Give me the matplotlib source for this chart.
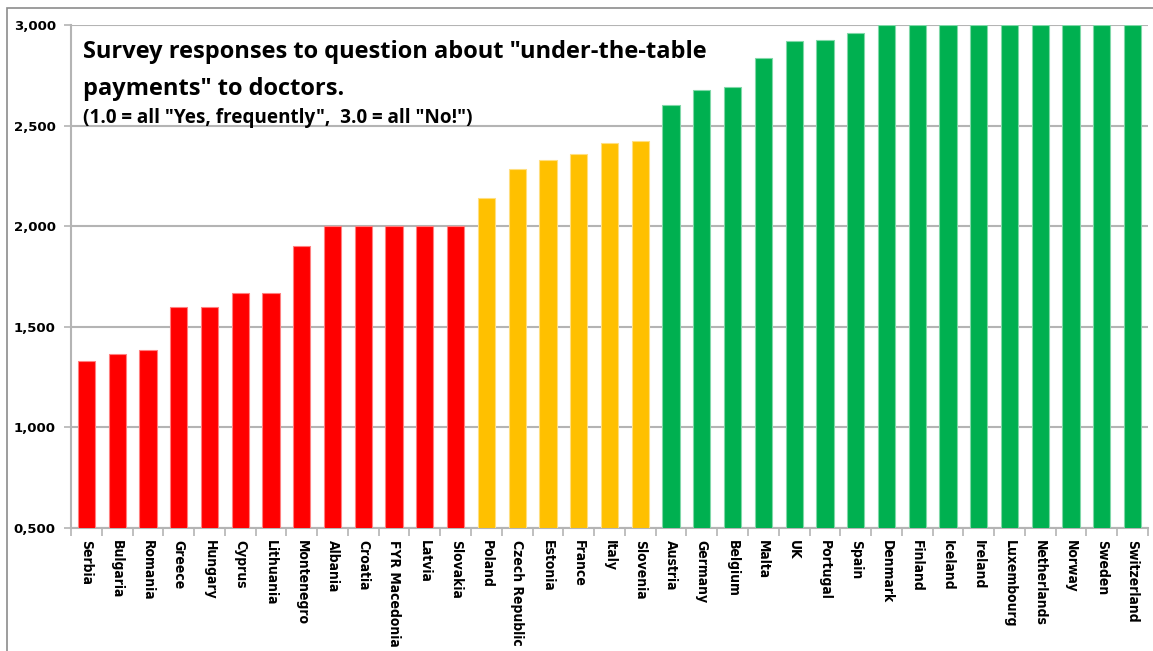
import matplotlib
matplotlib.use("Agg")
import matplotlib.pyplot as plt
from matplotlib.patches import Rectangle
from matplotlib.ticker import FuncFormatter

countries = ["Serbia", "Bulgaria", "Romania", "Greece", "Hungary", "Cyprus", "Lithuania",
             "Montenegro", "Albania", "Croatia", "FYR Macedonia", "Latvia", "Slovakia",
             "Poland", "Czech Republic", "Estonia", "France", "Italy", "Slovenia",
             "Austria", "Germany", "Belgium", "Malta", "UK", "Portugal", "Spain",
             "Denmark", "Finland", "Iceland", "Ireland", "Luxembourg", "Netherlands",
             "Norway", "Sweden", "Switzerland"]
values = [1.33, 1.365, 1.385, 1.60, 1.60, 1.667, 1.667,
          1.90, 2.0, 2.0, 2.0, 2.0, 2.0,
          2.14, 2.284, 2.33, 2.36, 2.415, 2.425,
          2.60, 2.675, 2.69, 2.835, 2.92, 2.927, 2.96,
          3.0, 3.0, 3.0, 3.0, 3.0, 3.0, 3.0, 3.0, 3.0]
groups = ["red"] * 13 + ["amber"] * 6 + ["green"] * 16
group_colors = {"red": "#FF0000", "amber": "#FFC000", "green": "#00B050"}
group_edges = {"red": "#FF8080", "amber": "#FFDF80", "green": "#80D8A8"}
yticks = [0.5, 1.0, 1.5, 2.0, 2.5, 3.0]
title_lines = ['Survey responses to question about "under-the-table', 'payments" to doctors.']
subtitle = '(1.0 = all "Yes, frequently",  3.0 = all "No!")'

fig = plt.figure(figsize=(11.53, 6.51), dpi=100)
W, H = 1153, 651
left, right, top, bottom = 71, 1148, 25, 528
ax = fig.add_axes([left / W, 1 - bottom / H, (right - left) / W, (bottom - top) / H])

x = list(range(len(countries)))
ax.bar(x, values, width=0.56, bottom=0,
       color=[group_colors[g] for g in groups],
       edgecolor=[group_edges[g] for g in groups], linewidth=0.8, zorder=3)

ax.set_xlim(-0.5, len(countries) - 0.5)
ax.set_ylim(0.5, 3.0)
ax.set_yticks(yticks)
ax.yaxis.set_major_formatter(FuncFormatter(lambda v, p: f"{v:.3f}".replace(".", ",")))
ax.grid(axis="y", color="#B4B4B4", linewidth=1.5, zorder=0)
ax.set_axisbelow(True)

for s in ["top", "right"]:
    ax.spines[s].set_visible(False)
for s in ["left", "bottom"]:
    ax.spines[s].set_color("#B4B4B4")
    ax.spines[s].set_linewidth(1.5)

ax.set_xticks(x)
ax.set_xticklabels(countries, rotation=270, fontsize=10, fontweight="bold",
                   family="DejaVu Sans", fontstretch="condensed", va="top", ha="center")
ax.tick_params(axis="x", length=0, pad=9)
ax.set_xticks([i + 0.5 for i in range(-1, len(countries))], minor=True)
ax.tick_params(axis="x", which="minor", length=6, color="#B4B4B4", width=1.2)
ax.tick_params(axis="y", length=5, color="#B4B4B4", width=1.2, pad=6)
for lbl in ax.get_yticklabels():
    lbl.set_fontweight("bold")
    lbl.set_fontsize(9.5)

fig.text(83 / W, 1 - 52 / H, title_lines[0],
         family="Open Sans", fontweight="bold", fontsize=17, va="center", ha="left")
fig.text(83 / W, 1 - 89 / H, title_lines[1],
         family="Open Sans", fontweight="bold", fontsize=17, va="center", ha="left")
fig.text(83 / W, 1 - 118 / H, subtitle,
         family="Open Sans", fontweight="bold", fontsize=13.6, va="center", ha="left")

fig.patches.append(Rectangle((7 / W, -0.1), 1.2, 1 - 8 / H + 0.1,
                             transform=fig.transFigure, fill=False,
                             edgecolor="#8C8C8C", linewidth=1.2))

fig.savefig("out.png", dpi=100)
